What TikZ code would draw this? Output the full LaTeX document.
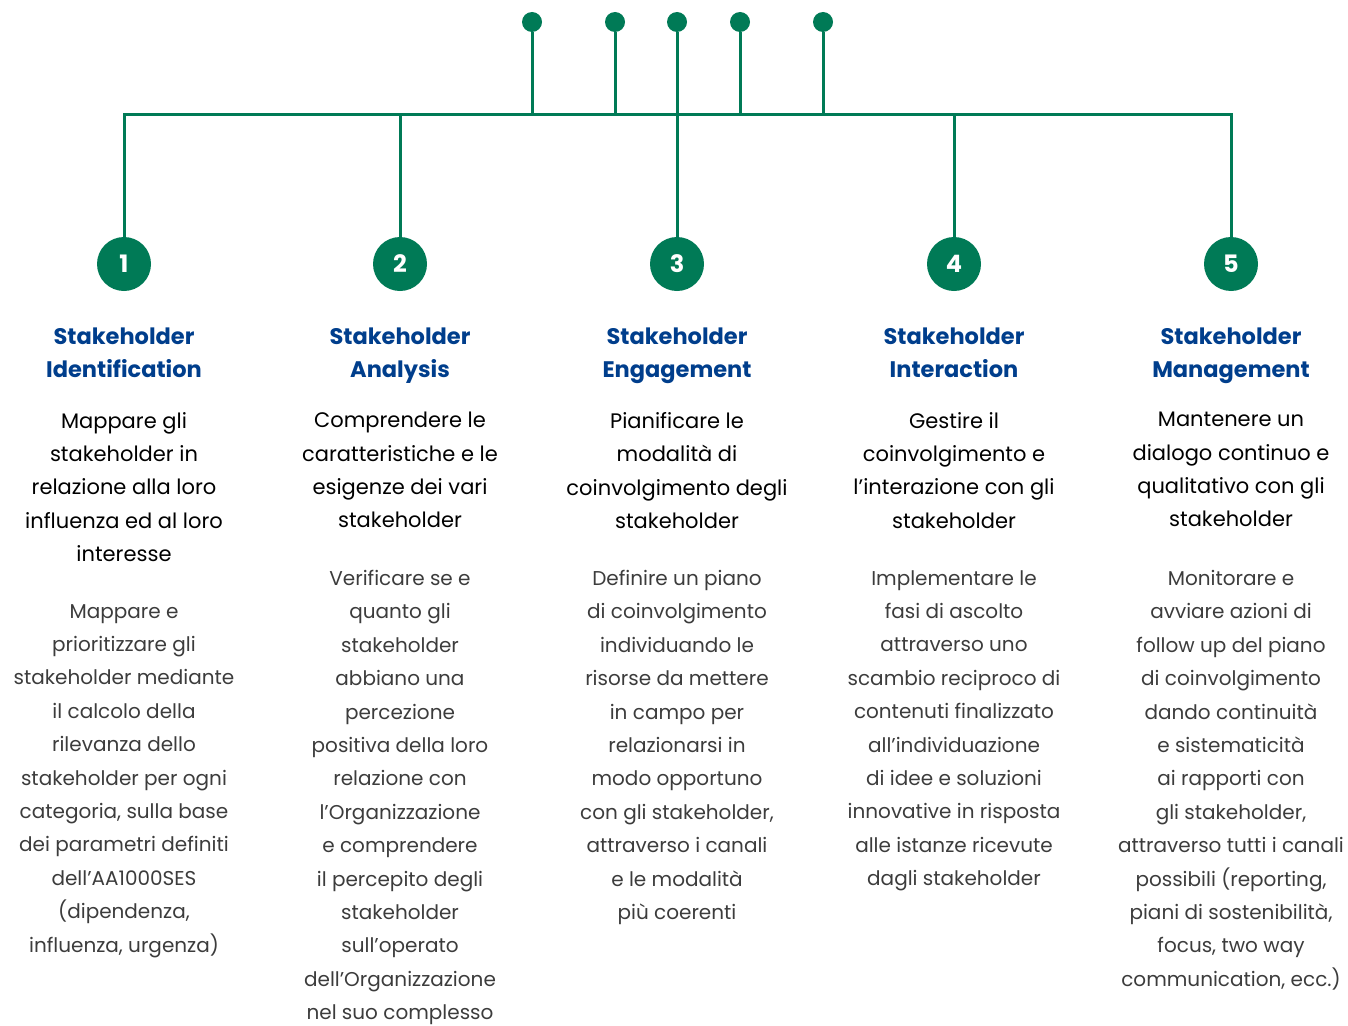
\documentclass[tikz,border=0pt]{standalone}
\usepackage{fontspec}
\setmainfont{Poppins}
\definecolor{grn}{RGB}{0,122,86}
\definecolor{ttl}{RGB}{0,62,140}
\definecolor{dtl}{RGB}{60,60,60}
\begin{document}
\begin{tikzpicture}[x=1pt,y=-1pt,
  line/.style={draw=grn,line width=3pt},
  dot/.style={circle,fill=grn,minimum size=20pt,inner sep=0pt},
  num/.style={circle,fill=grn,minimum size=54pt,inner sep=0pt,text=white,font=\bfseries\fontsize{24}{24}\selectfont},
  ttlbox/.style={anchor=north,inner sep=0pt,align=center,text=ttl,font=\bfseries\fontsize{22.5}{33}\selectfont},
  mainbox/.style={anchor=north,inner sep=0pt,align=center,text=black,font=\fontsize{21}{33.4}\selectfont},
  dtlbox/.style={anchor=north,inner sep=0pt,align=center,text=dtl,font=\fontsize{20}{33.4}\selectfont}]
\useasboundingbox (0,0) rectangle (1348,1025);
% top dots
\node[dot] (d1) at (532,22) {};
\node[dot] (d2) at (615,22) {};
\node[dot] (d3) at (677,22) {};
\node[dot] (d4) at (740,22) {};
\node[dot] (d5) at (823,22) {};
% numbered circles
\node[num] (n1) at (124,264) {1};
\node[num] (n2) at (400,264) {2};
\node[num] (n3) at (677,264) {3};
\node[num] (n4) at (954,264) {4};
\node[num] (n5) at (1231,264) {5};
% bus
\coordinate (bl) at (124,114);
\coordinate (br) at (1231,114);
\draw[line] (n1.north) -- (bl) -- (br) -- (n5.north);
\draw[line] (n2.north) -- (n2.north |- bl);
\draw[line] (n4.north) -- (n4.north |- bl);
\draw[line] (d3) -- (n3.north);
\draw[line] (d1) -- (d1 |- bl);
\draw[line] (d2) -- (d2 |- bl);
\draw[line] (d4) -- (d4 |- bl);
\draw[line] (d5) -- (d5 |- bl);
% column 1
\node[ttlbox] (t1) at (124,328) {Stakeholder\\Identification};
\node[mainbox] (m1) at (124,412) {Mappare gli\\stakeholder in\\relazione alla loro\\influenza ed al loro\\interesse};
\node[dtlbox] (x1) at (124,604) {Mappare e\\prioritizzare gli\\stakeholder mediante\\il calcolo della\\rilevanza dello\\stakeholder per ogni\\categoria, sulla base\\dei parametri definiti\\dell’AA1000SES\\(dipendenza,\\influenza, urgenza)};
% column 2
\node[ttlbox] (t2) at (400,328) {Stakeholder\\Analysis};
\node[mainbox] (m2) at (400,412) {Comprendere le\\caratteristiche e le\\esigenze dei vari\\stakeholder};
\node[dtlbox] (x2) at (400,570) {Verificare se e\\quanto gli\\stakeholder\\abbiano una\\percezione\\positiva della loro\\relazione con\\l’Organizzazione\\e comprendere\\il percepito degli\\stakeholder\\sull’operato\\dell’Organizzazione\\nel suo complesso};
% column 3
\node[ttlbox] (t3) at (677,328) {Stakeholder\\Engagement};
\node[mainbox] (m3) at (677,412) {Pianificare le\\modalità di\\coinvolgimento degli\\stakeholder};
\node[dtlbox] (x3) at (677,570) {Definire un piano\\di coinvolgimento\\individuando le\\risorse da mettere\\in campo per\\relazionarsi in\\modo opportuno\\con gli stakeholder,\\attraverso i canali\\e le modalità\\più coerenti};
% column 4
\node[ttlbox] (t4) at (954,328) {Stakeholder\\Interaction};
\node[mainbox] (m4) at (954,412) {Gestire il\\coinvolgimento e\\l’interazione con gli\\stakeholder};
\node[dtlbox] (x4) at (954,570) {Implementare le\\fasi di ascolto\\attraverso uno\\scambio reciproco di\\contenuti finalizzato\\all’individuazione\\di idee e soluzioni\\innovative in risposta\\alle istanze ricevute\\dagli stakeholder};
% column 5
\node[ttlbox] (t5) at (1231,328) {Stakeholder\\Management};
\node[mainbox] (m5) at (1231,412) {Mantenere un\\dialogo continuo e\\qualitativo con gli\\stakeholder};
\node[dtlbox] (x5) at (1231,570) {Monitorare e\\avviare azioni di\\follow up del piano\\di coinvolgimento\\dando continuità\\e sistematicità\\ai rapporti con\\gli stakeholder,\\attraverso tutti i canali\\possibili (reporting,\\piani di sostenibilità,\\focus, two way\\communication, ecc.)};
\end{tikzpicture}
\end{document}
